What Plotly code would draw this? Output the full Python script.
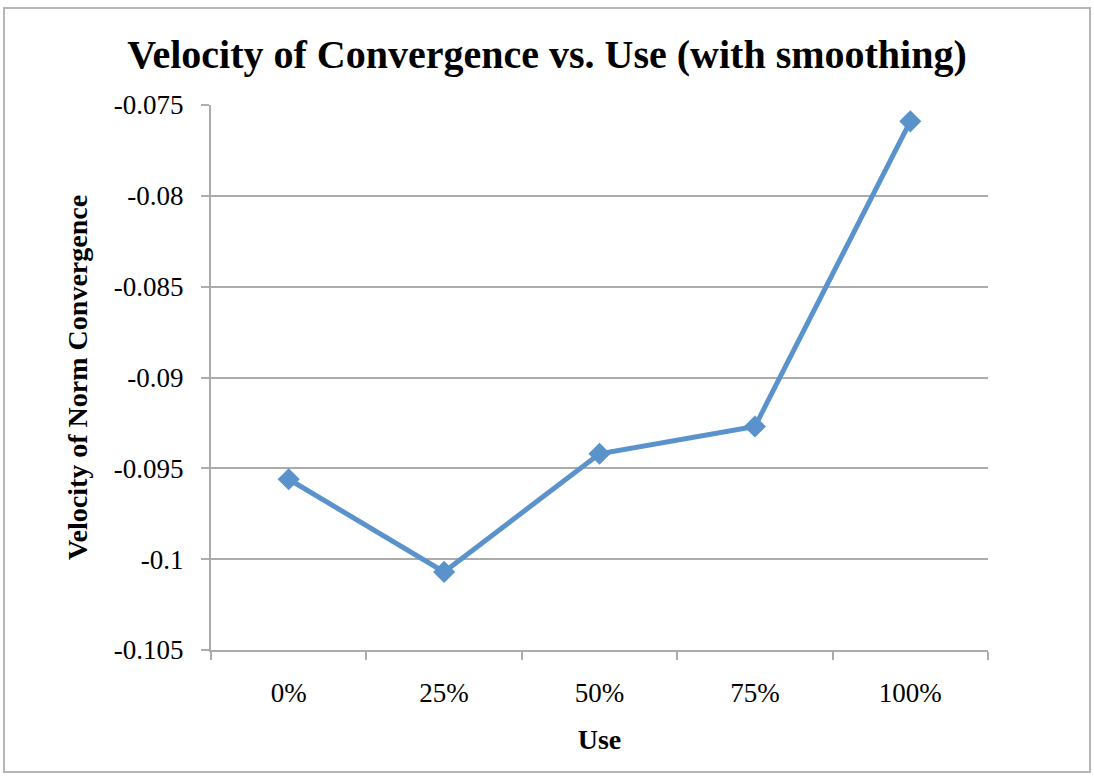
import plotly.graph_objects as go

categories = ["0%", "25%", "50%", "75%", "100%"]
velocity = [-0.0956, -0.1007, -0.0942, -0.0927, -0.0759]
y_tick_vals = [-0.105, -0.1, -0.095, -0.09, -0.085, -0.08, -0.075]
y_tick_text = ["-0.105", "-0.1", "-0.095", "-0.09", "-0.085", "-0.08", "-0.075"]

BLUE = "#5A93CB"
GRID = "#ABABAB"
SERIF = "Liberation Serif, Times New Roman, serif"

fig = go.Figure()
fig.add_trace(go.Scatter(
    x=categories, y=velocity, mode="lines+markers",
    line=dict(color=BLUE, width=5),
    marker=dict(symbol="diamond", size=17, color=BLUE),
    showlegend=False, hoverinfo="x+y",
))

fig.update_layout(
    width=1094, height=776,
    margin=dict(l=211, r=106, t=105, b=126),
    paper_bgcolor="white", plot_bgcolor="white",
    title=dict(text="<b>Velocity of Convergence vs. Use (with smoothing)</b>",
               x=0.5, xref="container", xanchor="center",
               y=1 - 54 / 776, yref="container", yanchor="middle",
               font=dict(family=SERIF, size=40, color="black")),
    font=dict(family=SERIF, color="black"),
    xaxis=dict(
        type="category", range=[-0.5, 4.5], tickson="boundaries",
        ticks="outside", ticklen=8, tickcolor=GRID, tickwidth=2,
        ticklabelstandoff=18,
        showline=True, linecolor=GRID, linewidth=2,
        showgrid=False, zeroline=False,
        tickfont=dict(family=SERIF, size=27, color="black"),
        title=dict(text="<b>Use</b>", font=dict(family=SERIF, size=28, color="black"), standoff=22),
    ),
    yaxis=dict(
        range=[-0.105, -0.075], tickvals=y_tick_vals, ticktext=y_tick_text,
        ticks="outside", ticklen=8, tickcolor=GRID, tickwidth=2,
        ticklabelstandoff=12,
        showline=True, linecolor=GRID, linewidth=2,
        showgrid=True, gridcolor=GRID, gridwidth=2, zeroline=False,
        tickfont=dict(family=SERIF, size=27, color="black"),
        title=dict(text="<b>Velocity of Norm Convergence</b>", font=dict(family=SERIF, size=28, color="black"), standoff=18),
    ),
    shapes=[dict(type="rect", xref="paper", yref="paper",
                 x0=(4 - 211) / 777, x1=(1090 - 211) / 777,
                 y0=(650 - 772) / 545, y1=(650 - 8) / 545,
                 line=dict(color="#B5B5B5", width=2), fillcolor="rgba(0,0,0,0)", layer="below")],
)

fig.write_html("out.html", config={"displayModeBar": False},
               post_script="document.body.style.margin='0';")
